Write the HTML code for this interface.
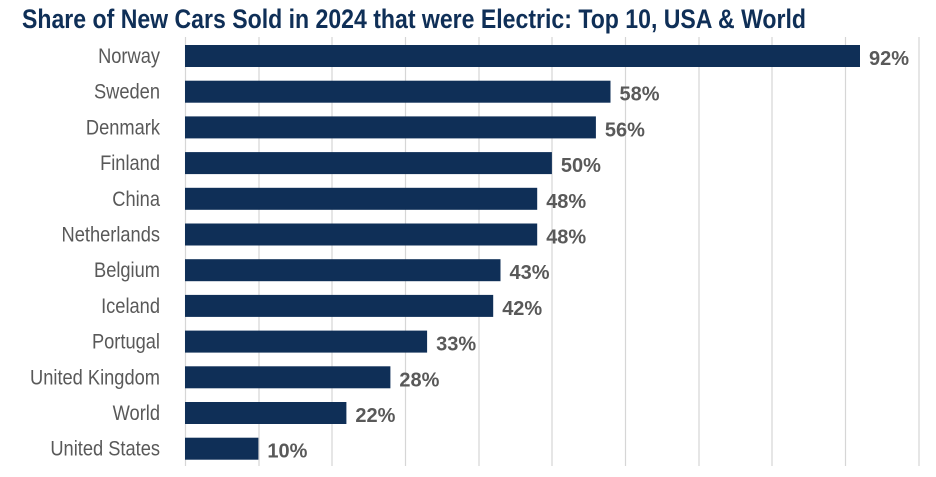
<!DOCTYPE html>
<html><head><meta charset="utf-8"><style>
html,body{margin:0;padding:0;background:#fff;}
svg{display:block;}
</style></head><body>
<svg width="936" height="477" xmlns="http://www.w3.org/2000/svg">
<text x="22" y="28" font-family="'Liberation Sans Narrow','Liberation Sans',sans-serif" font-weight="bold" font-size="27" fill="#0f2f57" textLength="784" lengthAdjust="spacingAndGlyphs">Share of New Cars Sold in 2024 that were Electric: Top 10, USA &amp; World</text>
<g stroke="#d6d6d6" stroke-width="1.2">
<line x1="185.5" y1="37" x2="185.5" y2="466"/>
<line x1="259" y1="37" x2="259" y2="466"/>
<line x1="332" y1="37" x2="332" y2="466"/>
<line x1="405.5" y1="37" x2="405.5" y2="466"/>
<line x1="479" y1="37" x2="479" y2="466"/>
<line x1="552" y1="37" x2="552" y2="466"/>
<line x1="625.5" y1="37" x2="625.5" y2="466"/>
<line x1="699" y1="37" x2="699" y2="466"/>
<line x1="772" y1="37" x2="772" y2="466"/>
<line x1="845.5" y1="37" x2="845.5" y2="466"/>
<line x1="919" y1="37" x2="919" y2="466"/>
</g>
<g fill="#0f2f57">
<rect x="185" y="45" width="675" height="22"/>
<rect x="185" y="80.7" width="425.5" height="22"/>
<rect x="185" y="116.4" width="410.9" height="22"/>
<rect x="185" y="152.1" width="366.9" height="22"/>
<rect x="185" y="187.8" width="352.2" height="22"/>
<rect x="185" y="223.5" width="352.2" height="22"/>
<rect x="185" y="259.2" width="315.5" height="22"/>
<rect x="185" y="294.9" width="308.2" height="22"/>
<rect x="185" y="330.6" width="242.1" height="22"/>
<rect x="185" y="366.3" width="205.4" height="22"/>
<rect x="185" y="402" width="161.4" height="22"/>
<rect x="185" y="437.7" width="73.4" height="22"/>
</g>
<g font-family="'Liberation Sans Narrow','Liberation Sans',sans-serif" font-size="21" fill="#595959" text-anchor="end" transform="translate(160,0) scale(0.87,1) translate(-160,0)">
<text x="160" y="63">Norway</text>
<text x="160" y="98.7">Sweden</text>
<text x="160" y="134.4">Denmark</text>
<text x="160" y="170.1">Finland</text>
<text x="160" y="205.8">China</text>
<text x="160" y="241.5">Netherlands</text>
<text x="160" y="277.2">Belgium</text>
<text x="160" y="312.9">Iceland</text>
<text x="160" y="348.6">Portugal</text>
<text x="160" y="384.3">United Kingdom</text>
<text x="160" y="420">World</text>
<text x="160" y="455.7">United States</text>
</g>
<g font-family="'Liberation Sans Narrow','Liberation Sans',sans-serif" font-size="20" font-weight="bold" fill="#595959">
<text x="869" y="65">92%</text>
<text x="619.5" y="100.7">58%</text>
<text x="604.9" y="136.4">56%</text>
<text x="560.9" y="172.1">50%</text>
<text x="546.2" y="207.8">48%</text>
<text x="546.2" y="243.5">48%</text>
<text x="509.5" y="279.2">43%</text>
<text x="502.2" y="314.9">42%</text>
<text x="436.1" y="350.6">33%</text>
<text x="399.4" y="386.3">28%</text>
<text x="355.4" y="422">22%</text>
<text x="267.4" y="457.7">10%</text>
</g>
</svg>
</body></html>
